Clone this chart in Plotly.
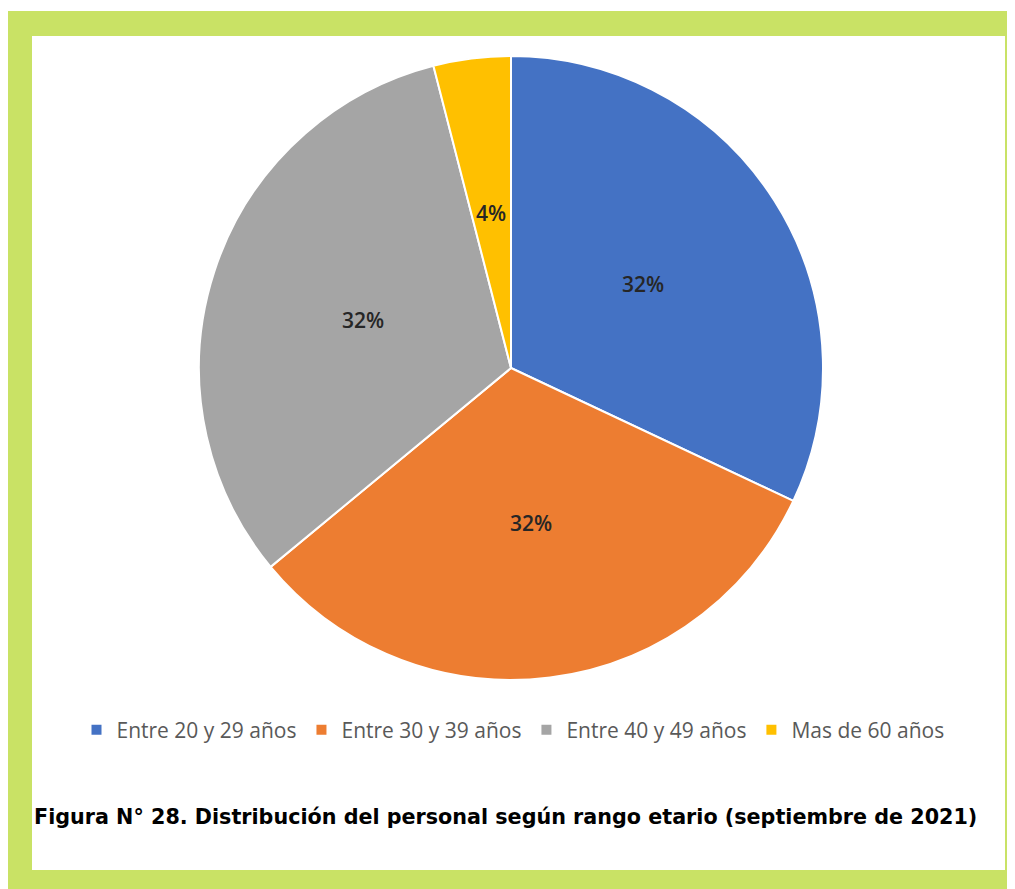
import math
import plotly.graph_objects as go

# Data
labels = ["Entre 20 y 29 años", "Entre 30 y 39 años", "Entre 40 y 49 años", "Mas de 60 años"]
values = [32, 32, 32, 4]
colors = ["#4472C4", "#ED7D31", "#A5A5A5", "#FFC000"]

caption = "Figura N° 28. Distribución del personal según rango etario (septiembre de 2021)"

W, H = 1015, 889
OFF = 8  # page body margin in the browser
GREEN = "#C9E265"


def px(x):
    return (x - OFF) / W


def py(y):
    return 1 - (y - OFF) / H


# pie placement (page pixels)
cx, cy, r = 511, 368, 312

fig = go.Figure()

fig.add_trace(go.Pie(
    labels=labels,
    values=values,
    sort=False,
    direction="clockwise",
    rotation=0,
    marker=dict(colors=colors, line=dict(color="white", width=2)),
    textinfo="none",
    domain=dict(x=[px(cx - r), px(cx + r)], y=[py(cy + r), py(cy - r)]),
    hoverinfo="label+percent",
))

# percentage labels at half radius, in the middle of each slice (Excel style)
total = sum(values)
cum = 0
for v in values:
    mid = (cum + v / 2) / total * 2 * math.pi
    cum += v
    fig.add_annotation(
        text=f"{v / total:.0%}",
        xref="paper", yref="paper",
        x=px(cx + 0.5 * r * math.sin(mid)), y=py(cy - 0.5 * r * math.cos(mid)),
        showarrow=False, xanchor="center", yanchor="middle",
        font=dict(family="Open Sans", size=21, color="#262626", weight=600),
    )

# green frame around the figure
frame = [
    (7, 11, 1030, 36),     # top
    (7, 870, 1030, 900),   # bottom
    (7, 11, 32, 900),      # left
    (1005, 11, 1030, 900),  # right
]
for x0, y0, x1, y1 in frame:
    fig.add_shape(type="rect", xref="paper", yref="paper",
                  x0=px(x0), x1=px(x1), y0=py(y1), y1=py(y0),
                  fillcolor=GREEN, line=dict(width=0), layer="below")

fig.add_annotation(
    text="<b>" + caption + "</b>",
    xref="paper", yref="paper", x=px(32), y=py(817),
    xanchor="left", yanchor="middle", showarrow=False,
    font=dict(family="DejaVu Sans", size=20.7, color="black"),
)

fig.update_layout(
    width=W,
    height=H,
    margin=dict(l=0, r=0, t=0, b=0),
    paper_bgcolor="white",
    plot_bgcolor="white",
    showlegend=True,
    legend=dict(
        orientation="h",
        x=px(513), xanchor="center",
        y=py(730), yanchor="middle",
        font=dict(family="Open Sans", size=21, color="#595959"),
        itemwidth=30,
    ),
)

fig.write_html("out.html")
